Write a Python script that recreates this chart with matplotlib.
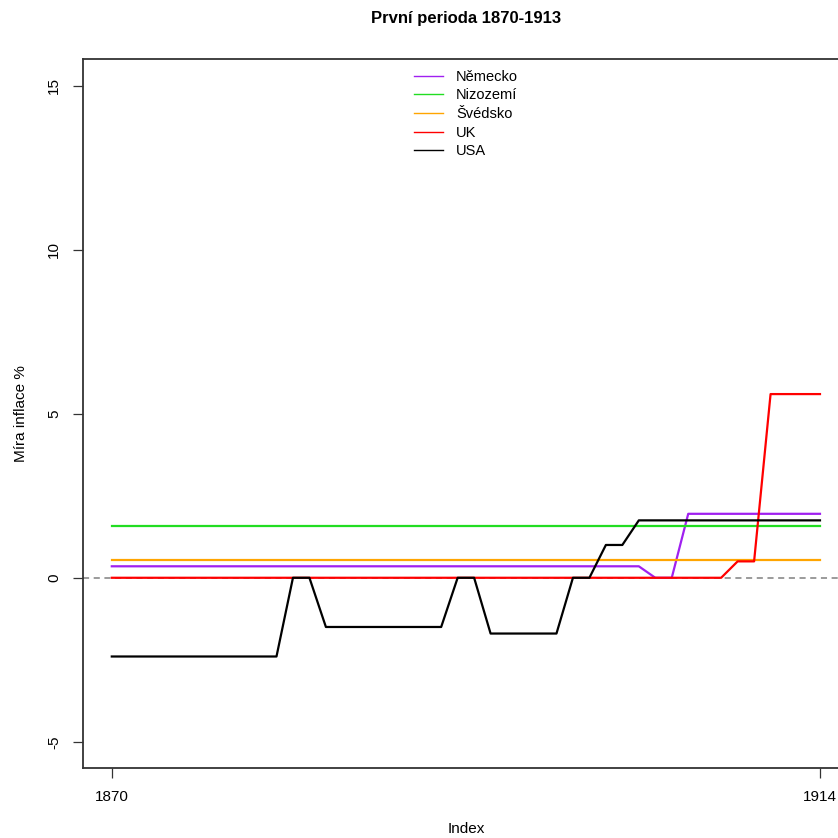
import matplotlib
matplotlib.use("Agg")
import matplotlib.pyplot as plt

plt.rcParams['font.family'] = ['Liberation Sans', 'DejaVu Sans']

# rocni mira inflace 1870-1913 (44 pozorovani)
roky = list(range(1870, 1914))
nemecko = [0.35, 0.35, 0.35, 0.35, 0.35, 0.35, 0.35, 0.35, 0.35, 0.35, 0.35,
           0.35, 0.35, 0.35, 0.35, 0.35, 0.35, 0.35, 0.35, 0.35, 0.35, 0.35,
           0.35, 0.35, 0.35, 0.35, 0.35, 0.35, 0.35, 0.35, 0.35, 0.35, 0.35,
           0.0, 0.0, 1.95, 1.95, 1.95, 1.95, 1.95, 1.95, 1.95, 1.95, 1.95]
nizozemi = [1.58, 1.58, 1.58, 1.58, 1.58, 1.58, 1.58, 1.58, 1.58, 1.58, 1.58,
            1.58, 1.58, 1.58, 1.58, 1.58, 1.58, 1.58, 1.58, 1.58, 1.58, 1.58,
            1.58, 1.58, 1.58, 1.58, 1.58, 1.58, 1.58, 1.58, 1.58, 1.58, 1.58,
            1.58, 1.58, 1.58, 1.58, 1.58, 1.58, 1.58, 1.58, 1.58, 1.58, 1.58]
svedsko = [0.55, 0.55, 0.55, 0.55, 0.55, 0.55, 0.55, 0.55, 0.55, 0.55, 0.55,
           0.55, 0.55, 0.55, 0.55, 0.55, 0.55, 0.55, 0.55, 0.55, 0.55, 0.55,
           0.55, 0.55, 0.55, 0.55, 0.55, 0.55, 0.55, 0.55, 0.55, 0.55, 0.55,
           0.55, 0.55, 0.55, 0.55, 0.55, 0.55, 0.55, 0.55, 0.55, 0.55, 0.55]
uk = [0.0, 0.0, 0.0, 0.0, 0.0, 0.0, 0.0, 0.0, 0.0, 0.0, 0.0,
      0.0, 0.0, 0.0, 0.0, 0.0, 0.0, 0.0, 0.0, 0.0, 0.0, 0.0,
      0.0, 0.0, 0.0, 0.0, 0.0, 0.0, 0.0, 0.0, 0.0, 0.0, 0.0,
      0.0, 0.0, 0.0, 0.0, 0.0, 0.5, 0.5, 5.6, 5.6, 5.6, 5.6]
usa = [-2.4, -2.4, -2.4, -2.4, -2.4, -2.4, -2.4, -2.4, -2.4, -2.4, -2.4,
       0.0, 0.0, -1.5, -1.5, -1.5, -1.5, -1.5, -1.5, -1.5, -1.5, 0.0,
       0.0, -1.7, -1.7, -1.7, -1.7, -1.7, 0.0, 0.0, 1.0, 1.0, 1.75,
       1.75, 1.75, 1.75, 1.75, 1.75, 1.75, 1.75, 1.75, 1.75, 1.75, 1.75]

zeme = ["Německo", "Nizozemí", "Švédsko", "UK", "USA"]
barvy = ["#A020F0", "#22DD22", "#FFA500", "#FF0000", "#000000"]
rady = [nemecko, nizozemi, svedsko, uk, usa]

index = list(range(1, len(roky) + 1))

fig = plt.figure(figsize=(8.38, 8.38), dpi=100)
ax = fig.add_axes([0.0996, 0.0835, 0.9127, 0.8455])

for r, c, lab in zip(rady, barvy, zeme):
    ax.plot(index, r, color=c, lw=1.6, label=lab)
ax.axhline(0, color="gray", ls=(0, (4, 3)), lw=1.1, zorder=0)

ax.set_xlim(-0.72, 45.72)
ax.set_ylim(-5.8, 15.8)
ax.set_xticks([1, 44])
ax.set_xticklabels(["1870", "1914"])
ax.set_yticks([-5, 0, 5, 10, 15])
ax.set_yticklabels(["-5", "0", "5", "10", "15"], rotation=90, va="center")
ax.tick_params(labelsize=11, length=7, width=0.9, color="#333333", pad=9)
for s in ax.spines.values():
    s.set_color("#333333")
    s.set_linewidth(1.3)

ax.set_title("První perioda 1870-1913", fontsize=12, fontweight="bold", pad=26)
ax.set_xlabel("Index", fontsize=11, labelpad=13)
ax.set_ylabel("Míra inflace %", fontsize=11, labelpad=14)

leg = ax.legend(loc="upper center", bbox_to_anchor=(0.5, 1.0), frameon=False,
                fontsize=10.5, handlelength=2.0, handletextpad=0.9,
                labelspacing=0.32, borderaxespad=0.3)
for h in leg.get_lines():
    h.set_linewidth(1.0)

fig.savefig("out.png", dpi=100)
